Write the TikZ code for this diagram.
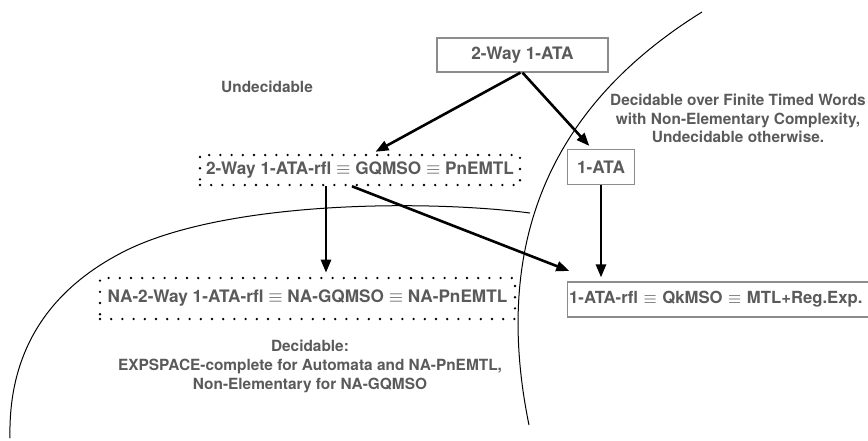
\documentclass[tikz,border=0pt]{standalone}
\usepackage{fontspec}
\setmainfont{TeX Gyre Heros}
\usetikzlibrary{arrows.meta,calc}
\definecolor{txtgray}{HTML}{5A5A5A}
\definecolor{boxgray}{HTML}{8C8C8C}
\tikzset{
  >={Triangle[length=6.5pt,width=5pt]},
  lang/.style={
    rectangle,
    draw=boxgray, line width=0.6pt,
    text=txtgray,
    font=\fontsize{8.6}{9.6}\selectfont\bfseries,
    inner sep=1pt},
  dotbox/.style={
    rectangle,
    draw=black, line width=1.3pt, line cap=round,
    dash pattern=on 0pt off 5.6pt,
    text=txtgray,
    font=\fontsize{8.6}{9.6}\selectfont\bfseries,
    inner sep=1pt},
  region/.style={
    text=txtgray,
    font=\fontsize{7.7}{9.3}\selectfont\bfseries,
    align=center},
  line/.style={draw, line width=1.3pt, ->, shorten >=2pt},
  border/.style={draw, line width=0.5pt},
}
\begin{document}
\begin{tikzpicture}[x=0.5pt,y=-0.5pt]
  \clip (0,0) rectangle (868,440);
  % regions
  \draw[border] (702,12) .. controls (557,102) and (490,235) .. (529,425);
  \draw[border] (530,213) .. controls (430,200) and (230,200) .. (127,250)
                .. controls (50,288) and (8,350) .. (10,438);
  \node[region] (undec) at (267,87) {Undecidable};
  \node[region] (finite) at (738,118.5) {Decidable over Finite Timed Words\\
    with Non-Elementary Complexity,\\ Undecidable otherwise.};
  \node[region] (dec) at (310,366.5) {Decidable:\\
    EXPSPACE-complete for Automata and NA-PnEMTL,\\ Non-Elementary for NA-GQMSO};
  % models
  \node[lang, minimum width=85.5pt, minimum height=17pt] (twoway) at (522.5,55) {2-Way 1-ATA};
  \node[lang, minimum width=33.5pt, minimum height=17.5pt] (ata) at (601,167) {1-ATA};
  \node[dotbox, minimum width=160pt, minimum height=15pt] (gq) at (360,170)
    {2-Way 1-ATA-rfl $\equiv$ GQMSO $\equiv$ PnEMTL};
  \node[dotbox, minimum width=207.5pt, minimum height=20.5pt] (na) at (307.5,298.5)
    {NA-2-Way 1-ATA-rfl $\equiv$ NA-GQMSO $\equiv$ NA-PnEMTL};
  \node[lang, font=\fontsize{8.35}{9.4}\selectfont\bfseries, inner xsep=0.8pt,
        anchor=west, text width=158pt, align=left, minimum height=17.5pt] (rfl) at (567,299.5)
    {1-ATA-rfl $\equiv$ QkMSO $\equiv$ MTL+Reg.Exp.};
  % arrows
  \coordinate (d1) at ([xshift=-17pt]gq.south);
  \coordinate (d2) at ([xshift=-4pt]gq.south);
  \draw[line] ([xshift=-1pt]twoway.south) -- ([xshift=6pt]gq.north);
  \draw[line] (twoway.south) -- ([xshift=-4.5pt]ata.north);
  \draw[line] (d1) -- (d1 |- na.north);
  \draw[line] (d2) -- ([xshift=3pt,yshift=4.5pt]rfl.north west);
  \draw[line] (ata.south) -- (ata.south |- rfl.north);
\end{tikzpicture}
\end{document}
